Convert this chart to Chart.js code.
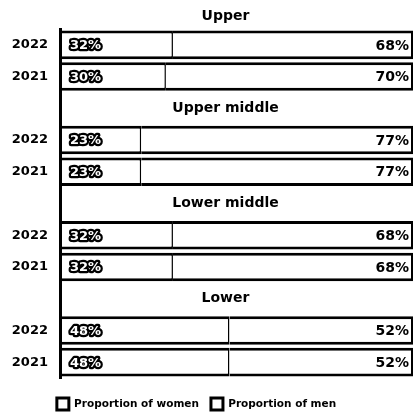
<!DOCTYPE html>
<html>
<head>
<meta charset="utf-8">
<script src="https://cdn.jsdelivr.net/npm/chart.js@4.4.0/dist/chart.umd.min.js"></script>
<style>
  html, body { margin: 0; padding: 0; background: #fff; }
  #wrap { width: 419px; height: 412px; }
</style>
</head>
<body>
<div id="wrap"><canvas id="chart"></canvas></div>
<script>
var groups = ['Upper', 'Upper middle', 'Lower middle', 'Lower'];
var years = ['2022', '2021'];
// per group: 2022, 2021
var womenShare = [32, 30, 23, 23, 32, 32, 48, 48];
var menShare = [68, 70, 77, 77, 68, 68, 52, 52];

// an empty row between two groups holds the group title
var rowLabels = [], women = [], men = [], titleRows = [];
groups.forEach(function(g, gi) {
    if (gi > 0) {
        titleRows.push(rowLabels.length);
        rowLabels.push('');
        women.push(null);
        men.push(null);
    }
    years.forEach(function(y, yi) {
        rowLabels.push(y);
        women.push(womenShare[gi * 2 + yi]);
        men.push(menShare[gi * 2 + yi]);
    });
});

var FONT = '"DejaVu Sans", sans-serif';

var barText = {
    id: 'barText',
    afterDatasetsDraw: function(chart) {
        var ctx = chart.ctx, area = chart.chartArea, yScale = chart.scales.y;
        ctx.save();
        ctx.textBaseline = 'middle';

        // group titles
        ctx.font = 'bold 14px ' + FONT;
        ctx.fillStyle = '#000';
        ctx.textAlign = 'center';
        var cx = (area.left + area.right) / 2 - 11;
        groups.forEach(function(g, gi) {
            var y = gi === 0 ? area.top - 13 : yScale.getPixelForValue(titleRows[gi - 1]);
            ctx.fillText(g, cx, y);
        });

        // women: white figures with a heavy black outline
        ctx.font = 'bold 13px ' + FONT;
        ctx.textAlign = 'left';
        ctx.lineJoin = 'round';
        ctx.lineWidth = 4.5;
        ctx.strokeStyle = '#000';
        chart.getDatasetMeta(0).data.forEach(function(bar, i) {
            if (women[i] == null) return;
            var t = women[i] + '%';
            ctx.strokeText(t, bar.base + 10, bar.y + 1);
            ctx.fillStyle = '#fff';
            ctx.fillText(t, bar.base + 10, bar.y + 1);
        });

        // men: plain black at the right end
        ctx.font = 'bold 14px ' + FONT;
        ctx.textAlign = 'right';
        ctx.fillStyle = '#000';
        chart.getDatasetMeta(1).data.forEach(function(bar, i) {
            if (men[i] == null) return;
            ctx.fillText(men[i] + '%', bar.x - 4, bar.y + 1);
        });
        ctx.restore();
    }
};

new Chart(document.getElementById('chart'), {
    type: 'bar',
    data: {
        labels: rowLabels,
        datasets: [
            {
                label: 'Proportion of women',
                data: women,
                backgroundColor: '#fff',
                borderColor: '#000',
                borderWidth: {top: 3, bottom: 3, left: 0, right: 1.5},
                borderSkipped: false
            },
            {
                label: 'Proportion of men',
                data: men,
                backgroundColor: '#fff',
                borderColor: '#000',
                borderWidth: {top: 3, bottom: 3, left: 0, right: 2},
                borderSkipped: false
            }
        ]
    },
    options: {
        indexAxis: 'y',
        responsive: true,
        maintainAspectRatio: false,
        animation: false,
        devicePixelRatio: 1,
        layout: {padding: {top: 29, right: 6, bottom: -8, left: -20}},
        datasets: {bar: {barPercentage: 0.9, categoryPercentage: 1}},
        scales: {
            x: {
                stacked: true,
                min: 0,
                max: 100,
                ticks: {display: false},
                grid: {display: false},
                border: {display: false},
                afterFit: function(s) { s.height = 8; }
            },
            y: {
                stacked: true,
                grid: {display: false, drawTicks: false},
                border: {display: true, color: '#000', width: 3, z: 1},
                ticks: {color: '#000', padding: 12, font: {family: FONT, size: 13, weight: 'bold'}},
                afterFit: function(s) { s.width = 80; }
            }
        },
        plugins: {
            tooltip: {enabled: false},
            legend: {
                position: 'bottom',
                labels: {
                    color: '#000',
                    boxWidth: 12,
                    boxHeight: 12,
                    padding: 12,
                    font: {family: FONT, size: 10.5, weight: 'bold'},
                    generateLabels: function(chart) {
                        return chart.data.datasets.map(function(ds, i) {
                            return {
                                text: ds.label,
                                fillStyle: '#fff',
                                strokeStyle: '#000',
                                lineWidth: 3,
                                fontColor: '#000',
                                hidden: false,
                                datasetIndex: i
                            };
                        });
                    }
                }
            }
        }
    },
    plugins: [barText]
});
</script>
</body>
</html>
